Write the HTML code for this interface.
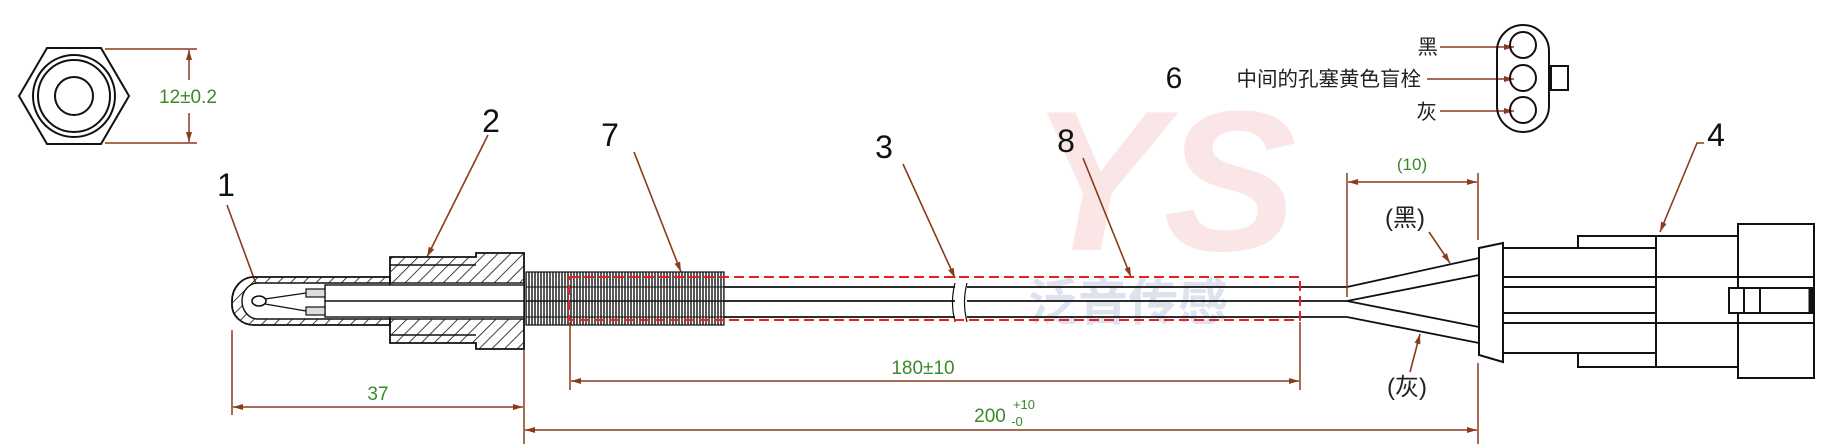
<!DOCTYPE html>
<html><head><meta charset="utf-8"><style>
html,body{margin:0;padding:0;background:#fff;}
svg{display:block;}
text{font-family:"Liberation Sans","Noto Sans CJK SC",sans-serif;}
</style></head><body>
<svg width="1832" height="444" viewBox="0 0 1832 444" xmlns="http://www.w3.org/2000/svg">
<defs>
<pattern id="hatch" patternUnits="userSpaceOnUse" width="9" height="9" patternTransform="rotate(45)">
<line x1="0" y1="0" x2="0" y2="9" stroke="#111" stroke-width="1.6"/>
</pattern>
<pattern id="thr" patternUnits="userSpaceOnUse" width="3" height="10">
<line x1="1" y1="0" x2="1" y2="10" stroke="#111" stroke-width="1.4"/>
</pattern>
<marker id="ar" viewBox="0 0 10 6" refX="10" refY="3" markerWidth="10" markerHeight="6" orient="auto-start-reverse" markerUnits="userSpaceOnUse">
<path d="M0,0 L10,3 L0,6 z" fill="#8b3a1a"/>
</marker>
</defs>

<!-- watermark -->
<text x="1030" y="250" font-size="200" font-weight="bold" fill="#f4c8c8" font-style="italic" opacity="0.45">YS</text>
<text x="1028" y="320" font-size="50" font-weight="bold" fill="#dde3ee">泛音传感</text>

<!-- hex view -->
<g fill="none" stroke="#111" stroke-width="2">
<polygon points="19,96 47,48 101,48 129,96 101,144 47,144"/>
<circle cx="74" cy="96" r="41"/>
<circle cx="74" cy="96" r="36"/>
<circle cx="74" cy="96" r="19"/>
</g>
<g stroke="#8b3a1a" stroke-width="1.5" fill="none">
<line x1="105" y1="49" x2="197" y2="49"/>
<line x1="105" y1="143" x2="197" y2="143"/>
<line x1="189" y1="80" x2="189" y2="50" marker-end="url(#ar)"/>
<line x1="189" y1="113" x2="189" y2="142" marker-end="url(#ar)"/>
</g>
<text x="188" y="103" font-size="19" fill="#3a8a2a" text-anchor="middle">12±0.2</text>

<!-- labels -->
<g font-size="32" fill="#111" text-anchor="middle">
<text x="226" y="196">1</text>
<text x="491" y="132">2</text>
<text x="610" y="146">7</text>
<text x="884" y="158">3</text>
<text x="1066" y="152">8</text>
<text x="1716" y="146">4</text>
<text x="1174" y="88" font-size="30">6</text>
</g>

<!-- leaders -->
<g stroke="#8b3a1a" stroke-width="1.6" fill="none">
<line x1="227" y1="205" x2="259" y2="292" marker-end="url(#ar)"/>
<line x1="488" y1="135" x2="427" y2="257" marker-end="url(#ar)"/>
<line x1="634" y1="152" x2="681" y2="272" marker-end="url(#ar)"/>
<line x1="903" y1="164" x2="955" y2="278" marker-end="url(#ar)"/>
<line x1="1083" y1="158" x2="1131" y2="277" marker-end="url(#ar)"/>
<polyline points="1704,143 1697,143 1660,232" marker-end="url(#ar)"/>
<line x1="1429" y1="232" x2="1450" y2="263" marker-end="url(#ar)"/>
<line x1="1410" y1="372" x2="1420" y2="334" marker-end="url(#ar)"/>
<line x1="1440" y1="47" x2="1514" y2="47" marker-end="url(#ar)"/>
<line x1="1427" y1="79" x2="1514" y2="79" marker-end="url(#ar)"/>
<line x1="1440" y1="111" x2="1514" y2="111" marker-end="url(#ar)"/>
</g>

<!-- probe tube -->
<path d="M390,277 L254,277 A22,24 0 0 0 232,301 L232,305 A22,20 0 0 0 254,325 L390,325 Z" fill="url(#hatch)" stroke="#111" stroke-width="1.8"/>
<path d="M390,283 L258,283 A16,18 0 0 0 242,301 A16,18 0 0 0 258,319 L390,319 Z" fill="#fff" stroke="#111" stroke-width="1.4"/>
<!-- nut -->
<path d="M390,257 L476,257 L476,253 L524,253 L524,349 L476,349 L476,343 L390,343 Z" fill="url(#hatch)" stroke="#111" stroke-width="1.8"/>
<line x1="390" y1="265" x2="476" y2="265" stroke="#111" stroke-width="1.4"/>
<line x1="390" y1="335" x2="476" y2="335" stroke="#111" stroke-width="1.4"/>
<rect x="390" y="283" width="134" height="36" fill="#fff" stroke="#111" stroke-width="1.4"/>
<rect x="325" y="285" width="199" height="32" fill="#fff" stroke="#111" stroke-width="1.4"/>
<line x1="325" y1="301" x2="524" y2="301" stroke="#111" stroke-width="1.4"/>
<!-- sensor tip -->
<ellipse cx="259" cy="301" rx="7" ry="5" fill="#fff" stroke="#111" stroke-width="1.6"/>
<line x1="265" y1="299" x2="306" y2="293" stroke="#111" stroke-width="1.2"/>
<line x1="265" y1="304" x2="306" y2="311" stroke="#111" stroke-width="1.2"/>
<rect x="306" y="289" width="19" height="8" fill="#ddd" stroke="#111" stroke-width="1.2"/>
<rect x="306" y="307" width="19" height="8" fill="#ddd" stroke="#111" stroke-width="1.2"/>

<!-- threads -->
<rect x="526" y="272" width="198" height="53" fill="url(#thr)" stroke="#111" stroke-width="1.2"/>
<line x1="526" y1="287" x2="724" y2="287" stroke="#111" stroke-width="1"/>
<line x1="526" y1="301" x2="724" y2="301" stroke="#111" stroke-width="1.4"/>
<line x1="526" y1="317" x2="724" y2="317" stroke="#111" stroke-width="1"/>

<!-- cable -->
<g stroke="#111" stroke-width="1.8" fill="none">
<path d="M724,287 L955,287 M967,287 L1347,287"/>
<path d="M724,301 L955,301 M967,301 L1347,301"/>
<path d="M724,317 L955,317 M967,317 L1347,317"/>
<path d="M955,283 Q950,302 955,322 M967,283 Q962,302 967,322" stroke-width="1.2"/>
<line x1="1347" y1="287" x2="1479" y2="258"/>
<line x1="1347" y1="301" x2="1479" y2="275"/>
<line x1="1347" y1="301" x2="1479" y2="327"/>
<line x1="1347" y1="317" x2="1479" y2="343"/>
</g>
<rect x="569" y="277" width="731" height="43" fill="none" stroke="#e82020" stroke-width="2" stroke-dasharray="10,5"/>

<!-- connector -->
<g stroke="#111" stroke-width="2" fill="none">
<polygon points="1479,248 1503,243 1503,362 1479,355" fill="#fff"/>
<line x1="1503" y1="248" x2="1656" y2="248"/>
<line x1="1503" y1="353" x2="1656" y2="353"/>
<line x1="1503" y1="277" x2="1814" y2="277"/>
<line x1="1503" y1="287" x2="1656" y2="287"/>
<line x1="1503" y1="313" x2="1656" y2="313"/>
<line x1="1503" y1="323" x2="1814" y2="323"/>
<polyline points="1578,248 1578,236 1738,236"/>
<polyline points="1578,353 1578,367 1738,367"/>
<line x1="1656" y1="236" x2="1656" y2="367"/>
<rect x="1738" y="224" width="76" height="154"/>
<rect x="1729" y="288" width="83" height="25" fill="#fff"/>
<line x1="1744" y1="288" x2="1744" y2="313"/>
<line x1="1760" y1="288" x2="1760" y2="313"/>
<line x1="1810" y1="288" x2="1810" y2="313" stroke-width="3"/>
</g>

<!-- top connector face -->
<g stroke="#111" stroke-width="2" fill="none">
<rect x="1497" y="25" width="52" height="107" rx="26" ry="26"/>
<circle cx="1523" cy="45" r="13"/>
<circle cx="1523" cy="78" r="13"/>
<circle cx="1523" cy="110" r="13"/>
<rect x="1551" y="66" width="17" height="24"/>
</g>
<g font-size="20.5" fill="#222" text-anchor="end">
<text x="1438" y="54">黑</text>
<text x="1421" y="86">中间的孔塞黄色盲栓</text>
<text x="1437" y="119">灰</text>
</g>

<!-- wire labels -->
<text x="1405" y="226" font-size="24" fill="#222" text-anchor="middle">(黑)</text>
<text x="1407" y="395" font-size="24" fill="#222" text-anchor="middle">(灰)</text>

<!-- dimensions -->
<g stroke="#8b3a1a" stroke-width="1.5" fill="none">
<line x1="232" y1="330" x2="232" y2="415"/>
<line x1="524" y1="350" x2="524" y2="444"/>
<line x1="233" y1="407" x2="523" y2="407" marker-start="url(#ar)" marker-end="url(#ar)"/>
<line x1="570" y1="322" x2="570" y2="390"/>
<line x1="1300" y1="322" x2="1300" y2="390"/>
<line x1="571" y1="381" x2="1299" y2="381" marker-start="url(#ar)" marker-end="url(#ar)"/>
<line x1="525" y1="430" x2="1477" y2="430" marker-start="url(#ar)" marker-end="url(#ar)"/>
<line x1="1478" y1="173" x2="1478" y2="240"/>
<line x1="1478" y1="363" x2="1478" y2="444"/>
<line x1="1347" y1="173" x2="1347" y2="297"/>
<line x1="1348" y1="182" x2="1477" y2="182" marker-start="url(#ar)" marker-end="url(#ar)"/>
</g>
<g fill="#3a8a2a" text-anchor="middle">
<text x="378" y="400" font-size="19">37</text>
<text x="923" y="374" font-size="19">180±10</text>
<text x="990" y="422" font-size="19">200</text>
<text x="1017" y="426" font-size="13">-0</text>
<text x="1024" y="409" font-size="13">+10</text>
<text x="1412" y="170" font-size="17">(10)</text>
</g>
</svg>
</body></html>
